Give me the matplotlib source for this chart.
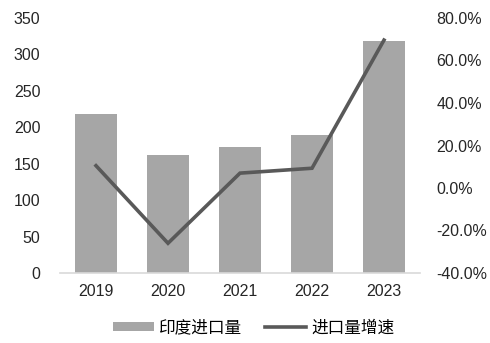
import matplotlib
matplotlib.use("Agg")
import matplotlib.pyplot as plt
from matplotlib.ticker import FuncFormatter
from matplotlib.lines import Line2D
from matplotlib.patches import Patch

plt.rcParams['font.family'] = ['Liberation Sans', 'Noto Sans CJK SC', 'DejaVu Sans']

years = ['2019', '2020', '2021', '2022', '2023']
import_volume = [218, 161.5, 172.5, 189, 319]
growth_pct = [10.5, -26.0, 7.0, 9.3, 69.6]

bar_color = '#a6a6a6'
line_color = '#595959'

fig = plt.figure(figsize=(4.9, 3.43), dpi=100)
ax = fig.add_axes([60/490, 70/343, 360/490, 255/343])
x = list(range(len(years)))
ax.bar(x, import_volume, width=0.57, color=bar_color, zorder=2)
ax.set_xlim(-0.5, 4.5)
ax.set_ylim(0, 350)
ax.set_yticks(range(0, 351, 50))
ax.set_xticks(x)
ax.set_xticklabels(years)
for s in ['top', 'right', 'left']:
    ax.spines[s].set_visible(False)
ax.spines['bottom'].set_color('#d9d9d9')
ax.spines['bottom'].set_linewidth(1.2)
ax.tick_params(axis='both', length=0, labelsize=11.5, colors='#262626')
ax.tick_params(axis='y', pad=14)
ax.tick_params(axis='x', pad=8)

ax2 = ax.twinx()
ax2.plot(x, growth_pct, color=line_color, linewidth=2.6, zorder=3, solid_joinstyle='miter')
ax2.set_ylim(-40, 80)
ax2.set_yticks(range(-40, 81, 20))
ax2.yaxis.set_major_formatter(FuncFormatter(lambda v, p: f"{v:.1f}%"))
for s in ['top', 'right', 'left', 'bottom']:
    ax2.spines[s].set_visible(False)
ax2.tick_params(axis='y', length=0, labelsize=11.5, colors='#262626', pad=12)

handles = [Patch(facecolor=bar_color, edgecolor='none'),
           Line2D([0], [0], color=line_color, linewidth=2.6)]
leg = fig.legend(handles, ['印度进口量', '进口量增速'], loc='center',
                 bbox_to_anchor=(253.5/490, 1 - 328/343), ncol=2, frameon=False,
                 handlelength=2.46, handleheight=0.45,
                 columnspacing=1.4, handletextpad=0.3,
                 prop={'family': ['Noto Sans CJK SC'], 'size': 12})

fig.savefig('out.png', dpi=100)
